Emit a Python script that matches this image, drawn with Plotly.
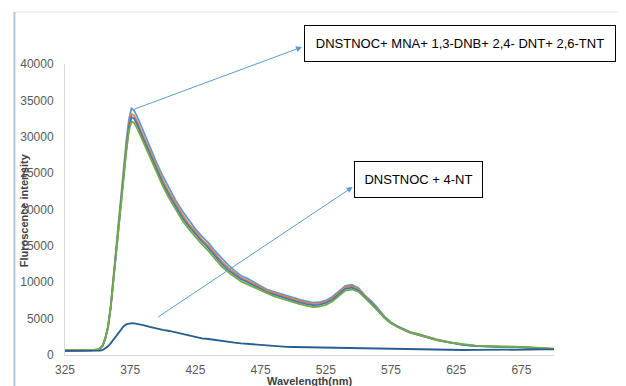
import plotly.graph_objects as go

wavelength = [325, 330, 335, 340, 345, 350, 352, 354, 356, 358, 360, 362, 364, 366, 368, 370, 372, 374, 376, 378, 380,
              385, 390, 395, 400, 405, 410, 415, 420, 425, 430, 435, 440, 445, 450, 455, 460, 465, 470, 475, 480,
              485, 490, 495, 500, 505, 510, 515, 520, 525, 530, 535, 540, 545, 550, 555, 560, 565, 570, 575, 580,
              585, 590, 595, 600, 610, 620, 630, 640, 650, 660, 670, 680, 690, 700]

mix_1 = [620, 610, 600, 610, 640, 750, 900, 1350, 2400, 3900, 6700, 10500, 14400, 18300, 22100, 25900, 29400, 32400, 33900, 33600, 32900,
         30800, 28600, 26500, 24600, 22900, 21200, 19800, 18500, 17300, 16300, 15400, 14300, 13300, 12400, 11600, 10900, 10500, 10000, 9500, 9000,
         8700, 8400, 8100, 7900, 7600, 7400, 7200, 7250, 7500, 8000, 8800, 9500, 9650, 9200, 8200, 7400, 6400, 5300, 4500, 3950,
         3550, 3150, 2950, 2650, 2150, 1780, 1420, 1260, 1170, 1130, 1120, 1020, 930, 820]

mix_2 = [650, 640, 630, 640, 660, 760, 900, 1300, 2300, 3800, 6500, 10200, 14000, 17800, 21500, 25200, 28700, 31700, 33100, 32900, 32200,
         30100, 28000, 25900, 24000, 22300, 20700, 19300, 18000, 16900, 15900, 15000, 13900, 12900, 12000, 11300, 10600, 10200, 9800, 9300, 8800,
         8500, 8200, 7900, 7700, 7400, 7200, 7000, 7050, 7300, 7800, 8600, 9300, 9450, 9000, 8100, 7200, 6200, 5200, 4400, 3900,
         3500, 3100, 2900, 2600, 2100, 1750, 1420, 1250, 1180, 1150, 1150, 1050, 950, 830]

mix_3 = [600, 590, 590, 600, 630, 740, 880, 1300, 2300, 3800, 6400, 10000, 13800, 17600, 21200, 24900, 28300, 31300, 32700, 32500, 31800,
         29700, 27600, 25500, 23600, 21900, 20300, 18900, 17700, 16600, 15600, 14700, 13600, 12600, 11700, 11000, 10400, 10000, 9600, 9100, 8600,
         8300, 8000, 7700, 7500, 7200, 7000, 6850, 6900, 7150, 7600, 8400, 9100, 9250, 8850, 7950, 7100, 6100, 5100, 4350, 3850,
         3450, 3050, 2850, 2550, 2050, 1700, 1390, 1230, 1150, 1100, 1100, 1000, 920, 820]

mix_4 = [640, 630, 620, 630, 660, 780, 950, 1400, 2400, 3900, 6500, 10000, 13700, 17400, 21000, 24600, 27900, 30800, 32100, 31900, 31300,
         29300, 27200, 25100, 23200, 21500, 19900, 18500, 17300, 16200, 15200, 14300, 13200, 12200, 11400, 10700, 10100, 9700, 9300, 8900, 8400,
         8100, 7800, 7500, 7300, 7000, 6800, 6600, 6650, 6900, 7350, 8100, 8850, 9000, 8700, 7850, 7000, 6050, 5100, 4350, 3850,
         3450, 3050, 2850, 2550, 2050, 1720, 1450, 1280, 1200, 1170, 1170, 1080, 980, 860]

nt_4 = [580, 570, 560, 560, 570, 580, 600, 700, 900, 1200, 1600, 2100, 2600, 3100, 3600, 3950, 4200, 4330, 4380, 4350, 4300,
        4100, 3850, 3600, 3450, 3300, 3100, 2900, 2700, 2450, 2300, 2200, 2050, 1900, 1800, 1700, 1600, 1520, 1440, 1380, 1300,
        1230, 1170, 1130, 1100, 1080, 1060, 1050, 1040, 1040, 1030, 1020, 1030, 1010, 990, 970, 950, 920, 880, 840, 810,
        790, 770, 750, 730, 700, 680, 690, 700, 690, 700, 720, 740, 760, 780]

series = [
    ("DNSTNOC+MNA", mix_1, "#5B9BD5"),
    ("DNSTNOC+1,3-DNB", mix_2, "#ED7D31"),
    ("DNSTNOC+2,4-DNT", mix_3, "#4472C4"),
    ("DNSTNOC+2,6-TNT", mix_4, "#70AD47"),
    ("DNSTNOC+4-NT", nt_4, "#255E91"),
]

fig = go.Figure()
for name, vals, col in series:
    fig.add_trace(go.Scatter(x=wavelength, y=vals, mode="lines", name=name,
                             line=dict(color=col, width=1.8)))

tick_font = dict(family="Liberation Sans, Arial, sans-serif", size=12, color="#595959")

# page body has an 8px offset; margins compensate so the plot area sits at
# screen x 61..554 and y 64..355
OFF = 8
fig.update_layout(
    width=626, height=386,
    margin=dict(l=61 - OFF, r=626 - 554 + OFF, t=64 - OFF, b=386 - 355 + OFF),
    paper_bgcolor="white", plot_bgcolor="white",
    showlegend=False,
    xaxis=dict(range=[325, 700], tickvals=[325, 375, 425, 475, 525, 575, 625, 675],
               showgrid=False, zeroline=False, showline=True, linecolor="#D9D9D9", linewidth=1,
               ticks="", tickfont=tick_font, ticklabelstandoff=4),
    yaxis=dict(range=[0, 40000], dtick=5000, tickformat="d", showgrid=False, zeroline=False,
               showline=True, linecolor="#D9D9D9", linewidth=1, ticks="",
               tickfont=tick_font, ticklabelstandoff=8),
)

PW, PH = 493.0, 291.0
def px(x):
    return (x - 61) / PW
def py(y):
    return (355 - y) / PH

# chart frame edges
fig.add_shape(type="line", xref="paper", yref="paper", x0=px(10), x1=px(640), y0=py(12), y1=py(12),
              line=dict(color="#E3E8EE", width=1))
fig.add_shape(type="line", xref="paper", yref="paper", x0=px(10), x1=px(10), y0=py(12), y1=py(400),
              line=dict(color="#A9C8E8", width=2))

# axis titles
title_font = dict(family="Liberation Sans, Arial, sans-serif", size=11, color="#404040")
fig.add_annotation(text="<b>Fluroscence intensity</b>", xref="paper", yref="paper",
                   x=px(20), y=py(210), xanchor="center", yanchor="middle", textangle=-90,
                   showarrow=False, font=title_font)
fig.add_annotation(text="<b>Wavelength(nm)</b>", xref="paper", yref="paper",
                   x=px(308), y=py(381), xanchor="center", yanchor="middle",
                   showarrow=False, font=title_font)

box_font = dict(family="Liberation Sans, Arial, sans-serif", size=13, color="black")
fig.add_annotation(text="DNSTNOC+ MNA+ 1,3-DNB+ 2,4- DNT+ 2,6-TNT", xref="paper", yref="paper",
                   x=px(459), y=py(43.5), xanchor="center", yanchor="middle",
                   showarrow=False, width=308, height=33,
                   bordercolor="black", borderwidth=1, borderpad=1, bgcolor="white", font=box_font)
fig.add_annotation(text="DNSTNOC + 4-NT", xref="paper", yref="paper",
                   x=px(417.5), y=py(179.5), xanchor="center", yanchor="middle",
                   showarrow=False, width=125, height=33,
                   bordercolor="black", borderwidth=1, borderpad=1, bgcolor="white", font=box_font)

# arrows (head at box, tail at curve)
fig.add_annotation(text="", xref="paper", yref="paper", x=px(300), y=py(47),
                   ax=130 - 300, ay=110 - 47, showarrow=True, arrowhead=2, arrowsize=1.2,
                   arrowwidth=1, arrowcolor="#5B9BD5")
fig.add_annotation(text="", xref="paper", yref="paper", x=px(351), y=py(187),
                   ax=155 - 351, ay=318 - 187, showarrow=True, arrowhead=2, arrowsize=1.2,
                   arrowwidth=1, arrowcolor="#5B9BD5")

fig.write_html("out.html")
